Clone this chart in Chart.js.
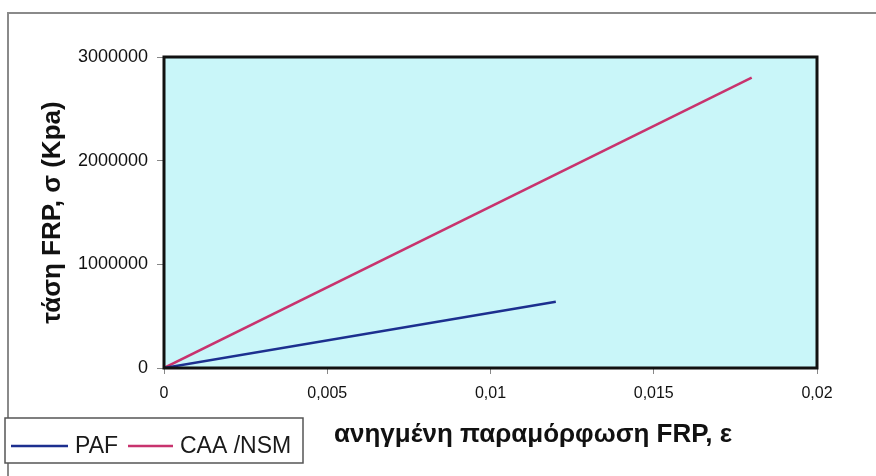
<!DOCTYPE html>
<html>
<head>
<meta charset="utf-8">
<script src="https://cdn.jsdelivr.net/npm/chart.js@4.4.1/dist/chart.umd.min.js"></script>
<style>
  html, body { margin: 0; padding: 0; background: #ffffff; }
  #wrap { width: 876px; height: 476px; position: relative; }
</style>
</head>
<body>
<div id="wrap"><canvas id="c" width="876" height="476"></canvas></div>
<script>
// Strain (x) and stress in kPa (y) for each strengthening system
const seriesNames = ['PAF', 'CAA /NSM'];
const pafStrain = [0, 0.012];
const pafStress = [0, 640000];
const caaStrain = [0, 0.018];
const caaStress = [0, 2800000];

const xTicks = [0, 0.005, 0.01, 0.015, 0.02];
const yTicks = [0, 1000000, 2000000, 3000000];

const xTitle = 'ανηγμένη παραμόρφωση FRP, ε';
const yTitle = 'τάση FRP, σ (Kpa)';

const colors = ['#1c2f8f', '#c8336e'];

const toPoints = (xs, ys) => xs.map((x, i) => ({ x: x, y: ys[i] }));

// Plot background, frame, outer border, x title and legend box
const decor = {
  id: 'decor',
  beforeDraw(chart) {
    const { ctx, chartArea: a } = chart;
    ctx.save();
    ctx.fillStyle = '#ffffff';
    ctx.fillRect(0, 0, chart.width, chart.height);
    ctx.strokeStyle = '#8a8a8a';
    ctx.lineWidth = 2;
    ctx.beginPath();
    ctx.moveTo(8, chart.height);
    ctx.lineTo(8, 13);
    ctx.lineTo(chart.width, 13);
    ctx.stroke();
    ctx.fillStyle = '#c9f6f9';
    ctx.fillRect(a.left, a.top, a.right - a.left, a.bottom - a.top);
    ctx.restore();
  },
  afterDraw(chart) {
    const { ctx, chartArea: a } = chart;
    ctx.save();
    ctx.strokeStyle = '#111111';
    ctx.lineWidth = 3;
    ctx.strokeRect(a.left, a.top, a.right - a.left, a.bottom - a.top);

    // x axis title
    ctx.fillStyle = '#111111';
    ctx.font = 'bold 26px "Liberation Sans", Arial, sans-serif';
    ctx.textAlign = 'center';
    ctx.textBaseline = 'middle';
    ctx.fillText(xTitle, 533, 435);

    // legend
    const lx = 5, ly = 418, lw = 298, lh = 45;
    ctx.fillStyle = '#ffffff';
    ctx.fillRect(lx, ly, lw, lh);
    ctx.strokeStyle = '#555555';
    ctx.lineWidth = 1.5;
    ctx.strokeRect(lx, ly, lw, lh);
    ctx.font = '23px "Liberation Sans", Arial, sans-serif';
    ctx.textAlign = 'left';
    const cy = 446;
    const items = [
      { x0: 11, x1: 68, tx: 75 },
      { x0: 128, x1: 173, tx: 180 }
    ];
    chart.data.datasets.forEach((ds, i) => {
      const it = items[i];
      ctx.strokeStyle = ds.borderColor;
      ctx.lineWidth = 2.5;
      ctx.beginPath();
      ctx.moveTo(it.x0, cy);
      ctx.lineTo(it.x1, cy);
      ctx.stroke();
      ctx.fillStyle = '#1a1a1a';
      ctx.fillText(ds.label, it.tx, cy + 1);
    });
    ctx.restore();
  }
};

new Chart(document.getElementById('c'), {
  type: 'line',
  data: {
    datasets: [
      { label: seriesNames[0], data: toPoints(pafStrain, pafStress), borderColor: colors[0], borderWidth: 2.5, pointRadius: 0, fill: false, tension: 0 },
      { label: seriesNames[1], data: toPoints(caaStrain, caaStress), borderColor: colors[1], borderWidth: 2.5, pointRadius: 0, fill: false, tension: 0 }
    ]
  },
  options: {
    responsive: false,
    animation: false,
    layout: { padding: { left: 0, top: 57, right: 59, bottom: 0 } },
    plugins: { legend: { display: false }, tooltip: { enabled: false } },
    scales: {
      x: {
        type: 'linear',
        min: 0, max: 0.02,
        afterBuildTicks(scale) { scale.ticks = xTicks.map(v => ({ value: v })); },
        afterFit(scale) { scale.height = 108; },
        border: { display: false },
        grid: { drawOnChartArea: false, color: '#888888', tickLength: 6, lineWidth: 1 },
        ticks: {
          padding: 10,
          color: '#111111',
          font: { family: '"Liberation Sans", Arial, sans-serif', size: 16 },
          callback: v => String(v).replace('.', ',')
        }
      },
      y: {
        min: 0, max: 3000000,
        afterBuildTicks(scale) { scale.ticks = yTicks.map(v => ({ value: v })); },
        afterFit(scale) { scale.width = 164; },
        border: { display: false },
        grid: { drawOnChartArea: false, color: '#888888', tickLength: 7, lineWidth: 1 },
        ticks: {
          padding: 9,
          color: '#111111',
          font: { family: '"Liberation Sans", Arial, sans-serif', size: 18 },
          callback: v => String(v)
        },
        title: {
          display: true,
          text: yTitle,
          color: '#111111',
          padding: { top: 37, bottom: 0 },
          font: { family: '"Liberation Sans", Arial, sans-serif', size: 26, weight: 'bold' }
        }
      }
    }
  },
  plugins: [decor]
});
</script>
</body>
</html>
